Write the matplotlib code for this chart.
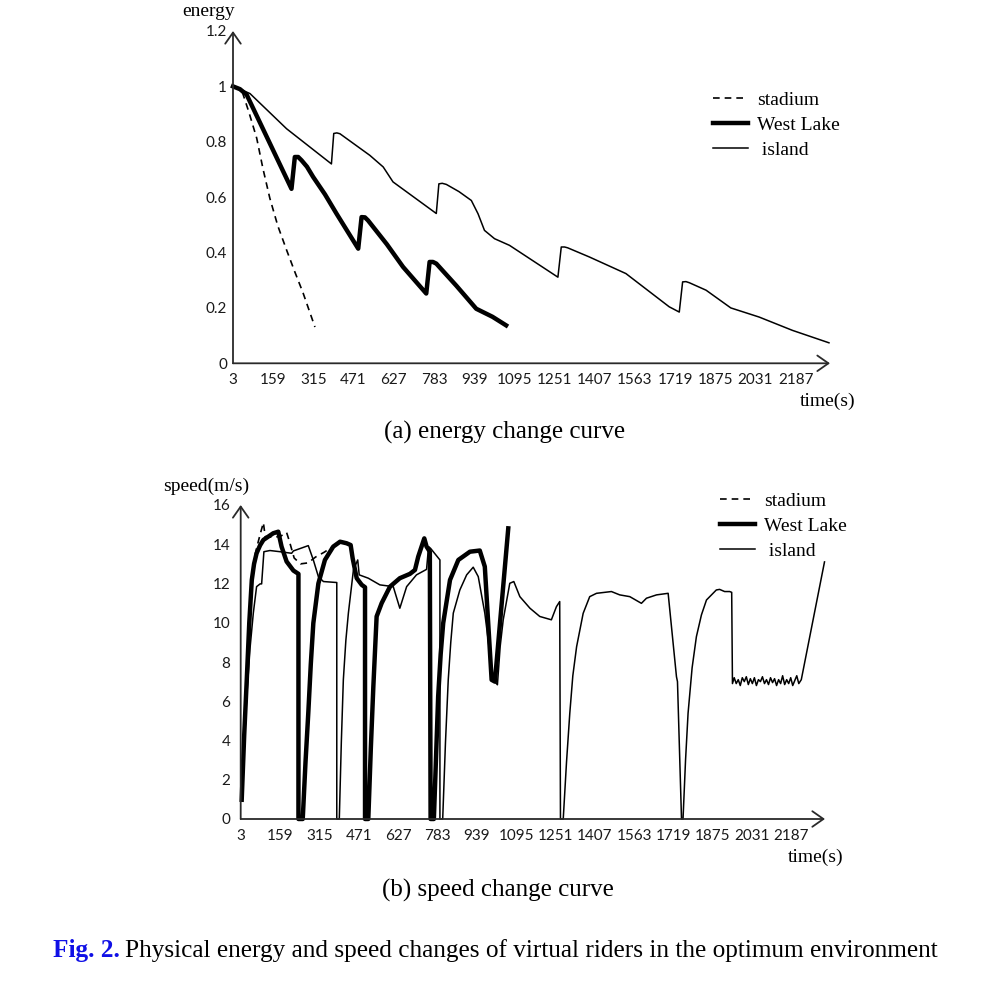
import matplotlib
matplotlib.use("Agg")
import matplotlib.pyplot as plt

# x axis ticks (s)
time_ticks = list(range(3, 2188, 156))

# ---- energy (a) ----
stadium_energy_t = [3, 18, 37, 65, 95, 119, 146, 177, 211, 243, 275, 321]
stadium_energy = [1.0, 0.996, 0.986, 0.906, 0.813, 0.704, 0.596, 0.496, 0.409, 0.330, 0.254, 0.131]

westlake_energy_t = [3, 30, 56, 140, 230, 243, 256, 269, 290, 314, 360, 405, 489, 502,
                     515, 527, 600, 663, 753, 766, 779, 792, 870, 947, 1010, 1063]
westlake_energy = [1.0, 0.99, 0.97, 0.806, 0.63, 0.745, 0.745, 0.733, 0.71, 0.673, 0.61, 0.54,
                   0.414, 0.528, 0.527, 0.516, 0.43, 0.348, 0.252, 0.366, 0.366, 0.36, 0.28,
                   0.197, 0.168, 0.137]

island_energy_t = [3, 30, 69, 211, 385, 394, 406, 418, 534, 586, 624, 792, 802, 815, 831,
                   880, 928, 954, 979, 1018, 1076, 1264, 1277, 1290, 1302, 1386, 1528, 1696,
                   1735, 1748, 1761, 1774, 1839, 1935, 2045, 2174, 2316]
island_energy = [1.0, 0.99, 0.974, 0.847, 0.72, 0.83, 0.832, 0.829, 0.751, 0.709, 0.655, 0.541,
                 0.648, 0.65, 0.646, 0.62, 0.588, 0.54, 0.48, 0.45, 0.426, 0.311, 0.42, 0.42,
                 0.417, 0.384, 0.324, 0.204, 0.185, 0.294, 0.295, 0.291, 0.264, 0.2, 0.167,
                 0.119, 0.074]

# ---- speed (b) ----
stadium_speed_t = [7, 17, 27, 37, 47, 56, 66, 80, 93, 100, 130, 160, 185, 195, 215, 240, 270,
                   300, 335, 370, 400]
stadium_speed = [1.0, 4.4, 7.1, 10.0, 12.2, 13.2, 13.8, 14.5, 15.1, 14.4, 14.35, 14.4, 14.6,
                 14.2, 13.3, 13.0, 13.05, 13.35, 13.6, 13.9, 14.05]

westlake_speed_t = [7, 17, 27, 37, 47, 56, 66, 80, 93, 132, 152, 165, 185, 212, 232, 232, 249,
                    260, 271, 281, 291, 311, 337, 370, 397, 423, 439, 447, 463, 483, 496, 496,
                    509, 519, 529, 542, 562, 595, 634, 674, 694, 707, 731, 740, 753, 756, 769,
                    778, 786, 796, 806, 833, 866, 912, 951, 971, 998, 1011, 1064]
westlake_speed = [0.98, 4.3, 7.09, 10.0, 12.18, 13.0, 13.54, 13.95, 14.22, 14.56, 14.64, 13.88,
                  13.12, 12.66, 12.49, 0, 0, 2.9, 5.4, 7.9, 9.98, 12.0, 13.2, 13.88, 14.13,
                  14.05, 13.96, 13.28, 12.27, 11.93, 11.81, 0, 0, 3.6, 6.75, 10.32, 11.0,
                  11.84, 12.27, 12.49, 12.69, 13.37, 14.3, 13.88, 13.62, 0, 0, 3.3, 6.24, 8.4,
                  9.98, 12.18, 13.2, 13.62, 13.68, 12.86, 7.09, 7.0, 14.81]

island_speed_t = [7, 17, 27, 40, 53, 66, 80, 86, 95, 119, 159, 205, 212, 271, 291, 311, 331,
                  384, 384, 394, 402, 410, 420, 430, 450, 467, 473, 509, 555, 608, 634, 661,
                  700, 740, 748, 756, 793, 793, 804, 815, 826, 836, 846, 872, 899, 925, 945,
                  971, 1004, 1021, 1032, 1044, 1070, 1086, 1110, 1150, 1189, 1235, 1255, 1268,
                  1271, 1282, 1295, 1308, 1320, 1335, 1361, 1387, 1414, 1473, 1506, 1546, 1592,
                  1612, 1652, 1698, 1731, 1735, 1751, 1757, 1767, 1777, 1793, 1810, 1830, 1850,
                  1889, 1902, 1922, 1942, 1950,
                  1953, 1960, 1968, 1976, 1984, 1992, 2000, 2008, 2016, 2024, 2032, 2040, 2048,
                  2056, 2064, 2072, 2080, 2088, 2096, 2104, 2112, 2120, 2128, 2136, 2144, 2152,
                  2160, 2168, 2176, 2184, 2192, 2200, 2208, 2216, 2226, 2318]
island_speed = [0.98, 3.7, 6.24, 8.7, 10.49, 11.84, 11.98, 11.98, 13.62, 13.68, 13.62, 13.54,
                13.66, 13.93, 13.2, 12.35, 12.1, 12.05, 0, 0, 3.9, 7.09, 9.1, 10.49, 12.69,
                13.2, 12.44, 12.27, 11.93, 11.84, 10.74, 11.84, 12.44, 12.72, 13.88, 13.79,
                13.2, 0, 0, 3.9, 7.09, 9.0, 10.49, 11.67, 12.44, 12.83, 12.35, 10.49, 7.09,
                6.84, 8.8, 10.15, 12.01, 12.1, 11.33, 10.74, 10.32, 10.15, 10.82, 11.08, 0, 0,
                2.9, 5.39, 7.3, 8.78, 10.48, 11.33, 11.5, 11.59, 11.42, 11.33, 10.99, 11.25,
                11.42, 11.5, 7.25, 7.0, 0, 0, 3.0, 5.39, 7.7, 9.29, 10.4, 11.16, 11.67, 11.7,
                11.59, 11.59, 11.55,
                6.9, 7.2, 6.9, 7.1, 6.8, 7.2, 7.0, 7.25, 6.85, 7.15, 6.9, 7.2, 6.8, 7.1, 7.0,
                7.25, 6.9, 7.1, 6.85, 7.2, 6.95, 7.15, 6.8, 7.1, 6.9, 7.3, 6.85, 7.1, 6.9, 7.2,
                6.8, 7.05, 7.3, 6.9, 7.1, 13.1]

W, H = 994, 981
SERIF = "Liberation Serif"
SANS = "Lato"
AXIS_COLOR = "#2a2a2a"


def fig_xy(x, y):
    return x / W, 1 - y / H


def style_axis(ax, ymax, yticks, ylabels, ypad):
    for s in ax.spines.values():
        s.set_visible(False)
    ax.set_xlim(3, 2320)
    ax.set_ylim(0, ymax)
    ax.set_xticks(time_ticks)
    ax.set_xticklabels([str(t) for t in time_ticks])
    ax.set_yticks(yticks)
    ax.set_yticklabels(ylabels)
    ax.tick_params(length=0, labelsize=11, colors="#1a1a1a")
    ax.tick_params(axis="x", pad=7)
    ax.tick_params(axis="y", pad=ypad)
    for lab in ax.get_xticklabels() + ax.get_yticklabels():
        lab.set_fontfamily(SANS)
    arrow = dict(arrowstyle="->,head_length=0.4,head_width=0.28", lw=1.3,
                 color=AXIS_COLOR, shrinkA=0, shrinkB=0, mutation_scale=20)
    ax.annotate("", xy=(1, 0), xytext=(0, 0), xycoords="axes fraction",
                arrowprops=arrow, annotation_clip=False)
    ax.annotate("", xy=(0, 1), xytext=(0, 0), xycoords="axes fraction",
                arrowprops=arrow, annotation_clip=False)


def draw_series(ax, stadium, westlake, island):
    ax.plot(*stadium, color="black", lw=1.2, ls=(0, (4, 3)), label="stadium", clip_on=False)
    ax.plot(*westlake, color="black", lw=3.2, label="West Lake", clip_on=False)
    ax.plot(*island, color="black", lw=1.1, label=" island", clip_on=False)


def add_legend(ax, x, y):
    ax.legend(loc="upper left", bbox_to_anchor=fig_xy(x, y),
              bbox_transform=ax.figure.transFigure, frameon=False,
              prop={"family": SERIF, "size": 14}, handlelength=1.8,
              handletextpad=0.45, labelspacing=0.39, borderpad=0, borderaxespad=0)


fig = plt.figure(figsize=(W / 100, H / 100), dpi=100)

# (a) energy
ax1 = fig.add_axes([233 / W, 1 - 363.3 / H, (830 - 233) / W, (363.3 - 31) / H])
draw_series(ax1, (stadium_energy_t, stadium_energy),
            (westlake_energy_t, westlake_energy), (island_energy_t, island_energy))
style_axis(ax1, 1.2, [0, 0.2, 0.4, 0.6, 0.8, 1.0, 1.2],
           ["0", "0.2", "0.4", "0.6", "0.8", "1", "1.2"], 4.3)
add_legend(ax1, 713, 91)

# (b) speed
ax2 = fig.add_axes([240.7 / W, 1 - 819 / H, (825 - 240.7) / W, (819 - 505) / H])
draw_series(ax2, (stadium_speed_t, stadium_speed),
            (westlake_speed_t, westlake_speed), (island_speed_t, island_speed))
style_axis(ax2, 16, list(range(0, 17, 2)), [str(v) for v in range(0, 17, 2)], 7.5)
add_legend(ax2, 720, 492)

# axis titles
fig.text(*fig_xy(209, 11), "energy", family=SERIF, size=14, ha="center", va="center")
fig.text(*fig_xy(828, 401), "time(s)", family=SERIF, size=14, ha="center", va="center")
fig.text(*fig_xy(206, 486), "speed(m/s)", family=SERIF, size=14, ha="center", va="center")
fig.text(*fig_xy(816, 857), "time(s)", family=SERIF, size=14, ha="center", va="center")

# captions
fig.text(*fig_xy(505, 432), "(a) energy change curve", family=SERIF, size=18,
         ha="center", va="center")
fig.text(*fig_xy(498, 890), "(b) speed change curve", family=SERIF, size=18,
         ha="center", va="center")
head = fig.text(*fig_xy(53, 951), "Fig. 2.", family=SERIF, size=18.2, weight="bold",
                color="#1010e6", ha="left", va="center")
fig.add_artist(matplotlib.text.Annotation(
    "Physical energy and speed changes of virtual riders in the optimum environment",
    xy=(1, 0), xycoords=head, xytext=(4, 0), textcoords="offset points",
    ha="left", va="bottom", family=SERIF, size=18.2))

fig.savefig("out.png", dpi=100)
